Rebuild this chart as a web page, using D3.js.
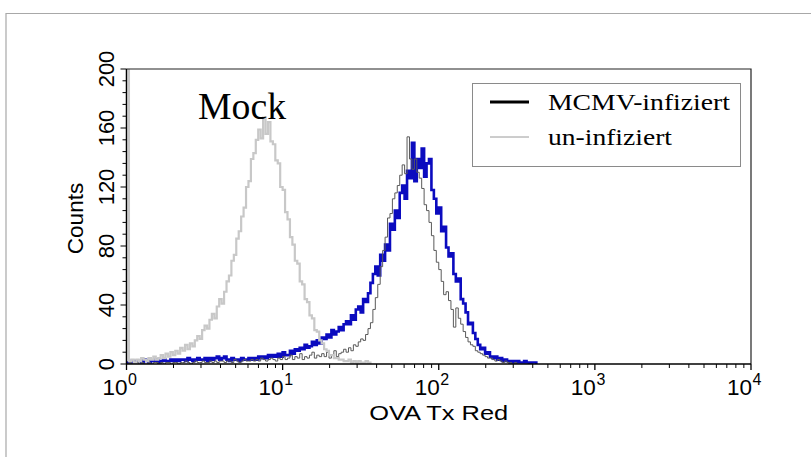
<!DOCTYPE html>
<html>
<head>
<meta charset="utf-8">
<script src="https://cdn.jsdelivr.net/npm/d3@7"></script>
<style>
  body { margin: 0; background: #fff; }
  svg { display: block; }
</style>
</head>
<body>
<div id="graphic"></div>
<script>
// histogram channels: 64 per decade, channel i sits at 10^(i/64)
const channelsPerDecade = 64

const mockCounts = [212, 2, 3, 1, 3, 2, 4, 3, 2, 4,
    3, 5, 3, 4, 6, 4, 7, 5, 8, 6,
    9, 7, 11, 9, 13, 10, 14, 12, 16, 19,
    17, 23, 26, 24, 30, 34, 31, 39, 44, 41,
    49, 56, 60, 70, 74, 85, 90, 100, 106, 120,
    124, 139, 143, 152, 159, 153, 167, 156, 164, 151,
    149, 138, 136, 120, 118, 103, 98, 86, 81, 70,
    68, 56, 54, 44, 42, 33, 31, 23, 22, 16,
    14, 10, 9, 6, 6, 4, 4, 3, 3, 2,
    2, 3, 1, 2, 1, 2, 1, 1, 2, 1, 0]

const mcmvCounts = [1, 1, 2, 1, 2, 2, 1, 3, 2, 1,
    2, 2, 3, 1, 2, 3, 2, 2, 3, 2,
    3, 2, 3, 3, 2, 4, 3, 2, 3, 4,
    3, 3, 4, 2, 4, 3, 4, 5, 3, 4,
    5, 3, 2, 4, 3, 3, 2, 4, 3, 3,
    4, 3, 4, 3, 5, 4, 5, 4, 6, 5,
    6, 5, 7, 5, 8, 6, 6, 9, 7, 10,
    9, 11, 10, 13, 11, 12, 15, 13, 16, 14,
    18, 17, 20, 18, 23, 20, 22, 25, 23, 27,
    29, 27, 33, 30, 37, 39, 35, 44, 42, 48,
    55, 61, 66, 60, 74, 70, 81, 77, 95, 91,
    104, 99, 116, 121, 112, 131, 126, 150, 124, 139,
    133, 146, 127, 136, 139, 118, 112, 102, 106, 90,
    93, 79, 73, 75, 61, 56, 58, 44, 41, 35,
    27, 28, 21, 17, 13, 10, 11, 7, 8, 5,
    4, 5, 3, 4, 2, 3, 2, 1, 2, 1,
    2, 1, 1, 2, 1, 0, 1, 1, 0]

const uninfCounts = [0, 1, 0, 0, 1, 0, 1, 0, 0, 1,
    0, 1, 1, 0, 1, 0, 1, 1, 0, 1,
    1, 0, 1, 1, 2, 1, 0, 1, 2, 1,
    1, 2, 1, 1, 2, 1, 2, 1, 2, 2,
    1, 2, 2, 1, 3, 2, 1, 2, 3, 2,
    2, 3, 2, 3, 2, 4, 3, 2, 3, 4,
    3, 2, 4, 3, 5, 3, 4, 6, 3, 5,
    4, 7, 3, 5, 4, 6, 8, 4, 6, 5,
    7, 5, 8, 4, 6, 9, 5, 7, 8, 10,
    8, 11, 9, 13, 12, 15, 17, 16, 20, 24,
    28, 37, 45, 54, 66, 77, 86, 99, 102, 112,
    116, 121, 128, 135, 129, 154, 139, 132, 139, 130,
    126, 119, 108, 104, 96, 87, 77, 69, 64, 56,
    47, 49, 43, 37, 25, 38, 31, 27, 22, 18,
    15, 13, 12, 9, 8, 7, 6, 5, 4, 4,
    3, 2, 3, 2, 1, 2, 1, 1, 0, 1, 0]

const yTicks = [0, 40, 80, 120, 160, 200]
const xDecades = [0, 1, 2, 3, 4]
const legendNames = ["MCMV-infiziert", "un-infiziert"]

const W = 811, H = 457
const margin = { top: 69, right: 60, bottom: 93, left: 126.5 },
    width = W - margin.left - margin.right,
    height = H - margin.top - margin.bottom

const svg = d3.select("#graphic")
    .append("svg")
    .attr("width", W)
    .attr("height", H)

// outer frame of the page image
svg.append("path")
    .attr("d", `M6,${H} V13.5 H${W}`)
    .attr("fill", "none")
    .attr("stroke", "#a8a8a8")
    .attr("stroke-width", 1.2)

const g = svg.append("g")
    .attr("transform", `translate(${margin.left},${margin.top})`)

const x = d3.scaleLog()
    .domain([1, 10000])
    .range([0, width])

const y = d3.scaleLinear()
    .domain([0, 200])
    .range([height, 0])

g.append("clipPath")
    .attr("id", "plotclip")
    .append("rect")
    .attr("x", -2)
    .attr("y", 0)
    .attr("width", width + 2)
    .attr("height", height)

const toPoints = counts => counts.map((c, i) => [Math.pow(10, i / channelsPerDecade), c])

const line = d3.line()
    .x(d => x(d[0]))
    .y(d => y(d[1]))
    .curve(d3.curveStepAfter)

const plot = g.append("g").attr("clip-path", "url(#plotclip)")

plot.append("path")
    .datum(toPoints(mcmvCounts))
    .attr("d", line)
    .attr("fill", "none")
    .attr("stroke", "#0b0bbf")
    .attr("stroke-width", 2.6)

plot.append("path")
    .datum(toPoints(uninfCounts))
    .attr("d", line)
    .attr("fill", "none")
    .attr("stroke", "#5a5a5a")
    .attr("stroke-width", 1)

plot.append("path")
    .datum(toPoints(mockCounts))
    .attr("d", line)
    .attr("fill", "none")
    .attr("stroke", "#c8c8c8")
    .attr("stroke-width", 2.2)

// box top and right
g.append("path")
    .attr("d", `M0,0 H${width} V${height}`)
    .attr("fill", "none")
    .attr("stroke", "#222")
    .attr("stroke-width", 1.2)

// x axis with log minor ticks
const xMinor = []
xDecades.slice(0, -1).forEach(p => {
    for (let k = 2; k < 10; k++) xMinor.push(k * Math.pow(10, p))
})
const xAxis = g.append("g").attr("transform", `translate(0,${height})`)
xAxis.append("line")
    .attr("x1", 0).attr("x2", width)
    .attr("stroke", "#000").attr("stroke-width", 1.5)
xAxis.selectAll(".minor")
    .data(xMinor)
    .join("line")
    .attr("x1", d => x(d)).attr("x2", d => x(d))
    .attr("y1", 0).attr("y2", 4)
    .attr("stroke", "#000")
xAxis.selectAll(".major")
    .data(xDecades)
    .join("line")
    .attr("x1", d => x(Math.pow(10, d))).attr("x2", d => x(Math.pow(10, d)))
    .attr("y1", 0).attr("y2", 6)
    .attr("stroke", "#000").attr("stroke-width", 1.3)

const xLab = xAxis.selectAll(".xlab")
    .data(xDecades)
    .join("g")
    .attr("transform", d => `translate(${x(Math.pow(10, d)) + 1},0)`)
xLab.append("text")
    .attr("text-anchor", "end")
    .attr("y", 31)
    .attr("font-family", "Liberation Sans, Arial, sans-serif")
    .attr("font-size", 22.5)
    .text("10")
xLab.append("text")
    .attr("x", 0.5)
    .attr("y", 21)
    .attr("font-family", "Liberation Sans, Arial, sans-serif")
    .attr("font-size", 16)
    .text(d => d)

g.append("text")
    .attr("x", x(100))
    .attr("y", height + 56)
    .attr("text-anchor", "middle")
    .attr("font-family", "Liberation Sans, Arial, sans-serif")
    .attr("font-size", 21)
    .attr("textLength", 139)
    .attr("lengthAdjust", "spacingAndGlyphs")
    .text("OVA Tx Red")

// y axis, minor ticks every 8 counts
const yAxis = g.append("g")
yAxis.append("line")
    .attr("y1", 0).attr("y2", height)
    .attr("stroke", "#000").attr("stroke-width", 1.5)
yAxis.selectAll(".ytick")
    .data(d3.range(0, 201, 8))
    .join("line")
    .attr("x1", d => yTicks.includes(d) ? -6 : -4).attr("x2", 0)
    .attr("y1", d => y(d)).attr("y2", d => y(d))
    .attr("stroke", "#000")
yAxis.selectAll(".ylab")
    .data(yTicks)
    .join("text")
    .attr("transform", d => `translate(-13,${y(d)}) rotate(-90)`)
    .attr("text-anchor", "middle")
    .attr("font-family", "Liberation Sans, Arial, sans-serif")
    .attr("font-size", 22)
    .text(d => d)

g.append("text")
    .attr("transform", `translate(-44,${y(100) + 2}) rotate(-90)`)
    .attr("text-anchor", "middle")
    .attr("font-family", "Liberation Sans, Arial, sans-serif")
    .attr("font-size", 22.5)
    .text("Counts")

// Mock annotation
svg.append("text")
    .attr("x", 198)
    .attr("y", 119)
    .attr("font-family", "Liberation Serif, Times New Roman, serif")
    .attr("font-size", 38)
    .attr("textLength", 88)
    .attr("lengthAdjust", "spacingAndGlyphs")
    .text("Mock")

// legend
const legend = svg.append("g")
legend.append("rect")
    .attr("x", 472.5).attr("y", 83.5)
    .attr("width", 268).attr("height", 83)
    .attr("fill", "#fff")
    .attr("stroke", "#8a8a8a")
const legendStyle = [
    { stroke: "#000", w: 3, len: 182 },
    { stroke: "#9a9a9a", w: 1, len: 124 }
]
legendNames.forEach((name, i) => {
    const ly = 102 + i * 35
    legend.append("line")
        .attr("x1", 490).attr("x2", 529)
        .attr("y1", ly).attr("y2", ly)
        .attr("stroke", legendStyle[i].stroke)
        .attr("stroke-width", legendStyle[i].w)
    legend.append("text")
        .attr("x", 548)
        .attr("y", ly + 8)
        .attr("font-family", "Liberation Serif, Times New Roman, serif")
        .attr("font-size", 23)
        .attr("textLength", legendStyle[i].len)
        .attr("lengthAdjust", "spacingAndGlyphs")
        .text(name)
})
</script>
</body>
</html>
